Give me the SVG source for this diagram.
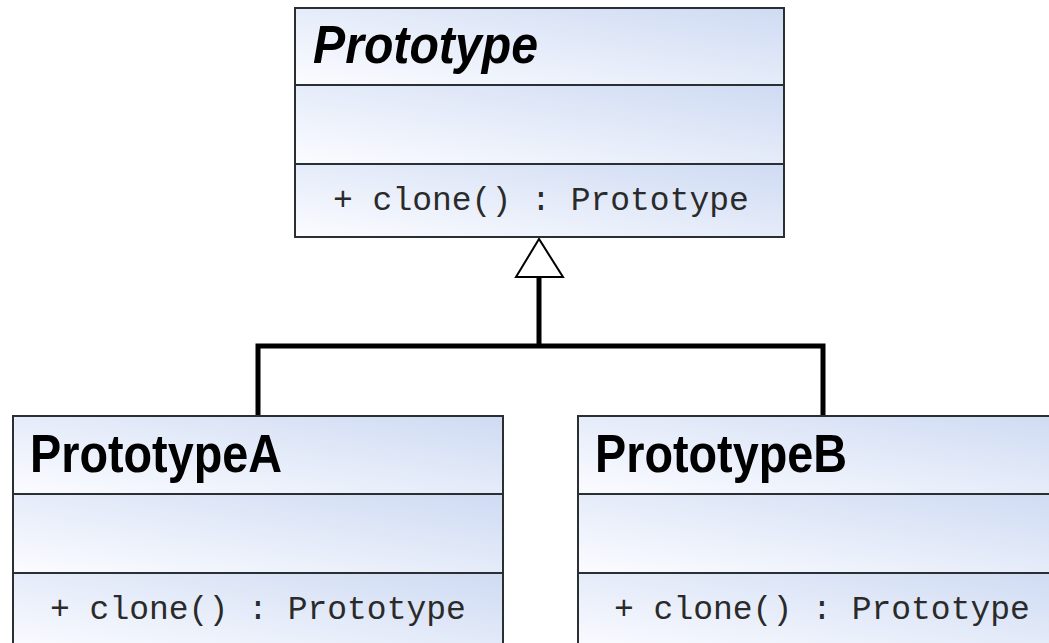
<svg xmlns="http://www.w3.org/2000/svg" width="1049" height="643" viewBox="0 0 1049 643">
  <defs>
    <linearGradient id="fillGrad" x1="0" y1="1" x2="1" y2="0">
      <stop offset="0" stop-color="#fbfcff"/>
      <stop offset="1" stop-color="#cfdbf3"/>
    </linearGradient>
  </defs>
  <style>
    .comp { fill: url(#fillGrad); stroke: #2a2f33; stroke-width: 2; }
    .title { font-family: "Liberation Sans", Arial, sans-serif; font-weight: bold; font-size: 54px; fill: #000; }
    .method { font-family: "Liberation Mono", "Courier New", monospace; font-size: 33px; fill: #2a2a2a; }
    .conn { fill: none; stroke: #000; stroke-width: 5; }
    .head { fill: #fff; stroke: #000; stroke-width: 2; }
  </style>
  <rect width="1049" height="643" fill="#fff"/>
  <g id="connectors">
    <path class="conn" d="M539 277 V346 M258 416 V346 H823 V416"/>
    <polygon class="head" points="539,239 516,277 563,277"/>
  </g>
  <g id="Prototype">
    <rect class="comp" x="295" y="8" width="489" height="77"/>
    <rect class="comp" x="295" y="85" width="489" height="79"/>
    <rect class="comp" x="295" y="164" width="489" height="73"/>
    <text class="title" x="313" y="63" font-style="italic" textLength="225" lengthAdjust="spacingAndGlyphs">Prototype</text>
    <text class="method" x="333" y="210">+ clone() : Prototype</text>
  </g>
  <g id="PrototypeA">
    <rect class="comp" x="13" y="416" width="490" height="78"/>
    <rect class="comp" x="13" y="494" width="490" height="79"/>
    <rect class="comp" x="13" y="573" width="490" height="80"/>
    <text class="title" x="30" y="472" textLength="252" lengthAdjust="spacingAndGlyphs">PrototypeA</text>
    <text class="method" x="50" y="619">+ clone() : Prototype</text>
  </g>
  <g id="PrototypeB">
    <rect class="comp" x="578" y="416" width="490" height="78"/>
    <rect class="comp" x="578" y="494" width="490" height="79"/>
    <rect class="comp" x="578" y="573" width="490" height="80"/>
    <text class="title" x="595" y="472" textLength="252" lengthAdjust="spacingAndGlyphs">PrototypeB</text>
    <text class="method" x="614" y="619">+ clone() : Prototype</text>
  </g>
</svg>
